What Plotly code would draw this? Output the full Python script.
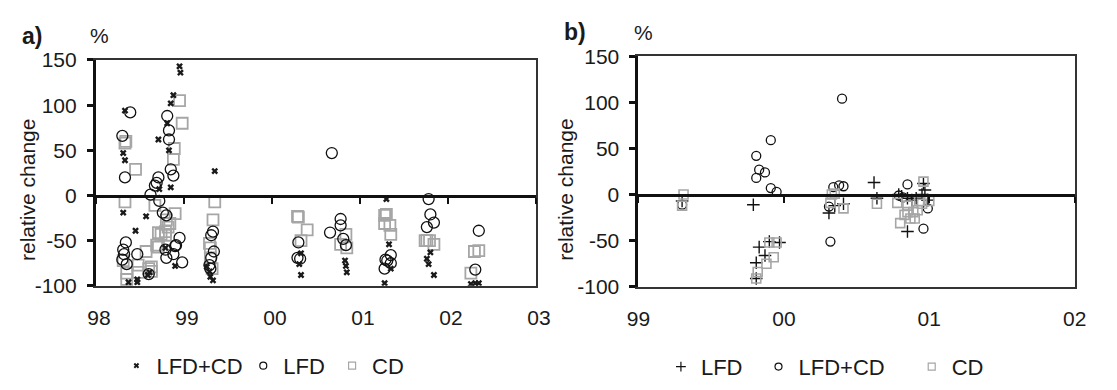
import plotly.graph_objects as go

W, H = 1117, 390

# ---------------- data: panel a ----------------
a_lfdcd_x = [1998.95, 1998.96, 1998.88, 1998.85, 1998.81, 1998.71, 1998.83, 1998.33, 1998.31, 1998.33,
             1998.72, 1998.85, 1999.35, 1998.31, 1998.57, 1998.45, 1998.79, 1998.90, 1998.37, 1998.47,
             1998.47, 1998.59, 1998.61, 1999.26, 1999.29, 1999.30, 1999.33, 2000.33, 2000.31, 2000.33,
             2000.83, 2000.84, 2000.85, 2001.30, 2001.33, 2001.35, 2001.28, 2001.80, 2001.76, 2001.78,
             2001.84, 2002.26, 2002.31, 2002.35]
a_lfdcd_y = [143, 136, 111, 102, 80, 62, 50, 94, 47, 39,
             7, 9, 27, -19, -23, -39, -58, -78, -96, -93,
             -96, -88, -85, -79, -84, -90, -94, -64, -76, -88,
             -72, -78, -85, -4, -54, -81, -97, -63, -70, -76,
             -88, -98, -97, -97]

a_lfd_x = [1998.39, 1998.81, 1998.83, 1998.83, 1998.30, 1998.33, 1998.85, 1998.88, 1998.71, 1998.67,
           1998.69, 1998.62, 1998.72, 1998.76, 1998.80, 1999.33, 1999.31, 1998.95, 1998.91, 1998.90,
           1998.88, 1998.80, 1998.98, 1998.79, 1998.47, 1998.34, 1998.31, 1998.32, 1998.30, 1998.35,
           1998.60, 1999.31, 1999.34, 1999.29, 1999.30, 2000.68, 2000.30, 2000.32, 2000.29, 2000.78,
           2000.78, 2000.66, 2000.81, 2000.84, 2001.35, 2001.29, 2001.31, 2001.28, 2001.35, 2001.78,
           2001.80, 2001.84, 2001.76, 2002.35, 2002.31]
a_lfd_y = [92, 88, 72, 62, 66, 20, 29, 22, 20, 11,
           14, 1, -6, -19, -22, -40, -44, -47, -55, -56,
           -65, -69, -74, -60, -65, -52, -60, -65, -71, -76,
           -87, -69, -62, -77, -81, 47, -52, -70, -69, -26,
           -33, -41, -48, -55, -66, -71, -72, -81, -75, -4,
           -21, -30, -35, -39, -82]

a_cd_x = [1998.95, 1998.98, 1998.89, 1998.88, 1998.34, 1998.33, 1998.45, 1998.33, 1998.67, 1998.90,
          1998.80, 1998.84, 1998.82, 1998.79, 1998.71, 1998.74, 1998.79, 1999.35, 1999.33, 1998.69,
          1998.71, 1998.57, 1998.31, 1998.35, 1998.35, 1998.48, 1998.48, 1998.60, 1998.63, 1998.63,
          1999.29, 1999.30, 1999.30, 1999.32, 2000.30, 2000.29, 2000.40, 2000.33, 2000.84, 2000.78,
          2000.85, 2001.28, 2001.30, 2001.28, 2001.34, 2001.35, 2001.76, 2001.79, 2001.84, 2001.74,
          2002.30, 2002.35, 2002.26]
a_cd_y = [105, 80, 52, 40, 60, 58, 29, -7, -11, -20,
          -27, -31, -35, -40, -41, -43, -44, -7, -27, -55,
          -57, -62, -72, -86, -93, -77, -85, -81, -79, -84,
          -53, -58, -69, -81, -24, -23, -38, -50, -43, -54,
          -58, -22, -21, -31, -33, -43, -50, -50, -54, -50,
          -62, -61, -86]

# ---------------- data: panel b ----------------
b_lfd_x = [1999.30, 1999.79, 1999.83, 1999.90, 1999.87, 1999.81, 1999.81, 1999.97, 2000.31, 2000.35,
           2000.41, 2000.62, 2000.64, 2000.96, 2000.85, 2000.79, 2000.81, 2000.85, 2000.88, 2000.91,
           2000.95, 2000.99, 2000.97]
b_lfd_y = [-7, -11, -57, -51, -66, -74, -91, -52, -20, -12,
           -10, 13, -4, 12, -40, 0, -2, -4, -6, -4,
           0, -6, 5]

b_lfdcd_x = [1999.30, 1999.81, 1999.91, 1999.83, 1999.87, 1999.81, 1999.91, 1999.95, 2000.34, 2000.38,
             2000.41, 2000.31, 2000.32, 2000.85, 2000.99, 2000.96, 2000.79, 2000.82, 2000.40]
b_lfdcd_y = [-11, 42, 59, 27, 24, 18, 7, 3, 8, 10,
             9, -13, -51, 11, -15, -37, -1, -3, 104]

b_cd_x = [1999.31, 1999.30, 1999.90, 1999.88, 1999.82, 1999.81, 1999.95, 1999.93, 2000.33, 2000.32,
          2000.35, 2000.41, 2000.64, 2000.96, 2000.80, 2000.78, 2000.83, 2000.87, 2000.90, 2000.85,
          2000.89, 2000.92, 2000.93, 2001.00, 2000.95, 2000.85]
b_cd_y = [0, -12, -52, -75, -84, -91, -52, -68, 0, -9,
          1, -15, -10, 14, -31, -9, -22, -26, -26, -19,
          -19, -17, -7, -7, -10, -12]

# ---------------- axis labels ----------------
y_vals = [-100, -50, 0, 50, 100, 150]
y_text = ["-100", "-50", "0", "50", "100", "150"]
a_years = [1998, 1999, 2000, 2001, 2002, 2003]
a_year_text = ["98", "99", "00", "01", "02", "03"]
b_years = [1999, 2000, 2001, 2002]
b_year_text = ["99", "00", "01", "02"]
Y_RANGE = [-100, 150]

FONT = "Liberation Sans, Arial, sans-serif"
TXT = "#1a1a1a"
GRAY = "#a6a6a6"


def px_x(p):
    return p / W


def px_y(p):
    return 1 - p / H


A_DX = [px_x(86), px_x(537)]
A_DY = [px_y(291), px_y(51)]
B_DX = [px_x(642), px_x(1089)]
B_DY = [px_y(292), px_y(47)]


def zero_pos(dy):
    return dy[0] + (0 - Y_RANGE[0]) / (Y_RANGE[1] - Y_RANGE[0]) * (dy[1] - dy[0])


fig = go.Figure()

# panel a traces
fig.add_trace(go.Scatter(x=a_cd_x, y=a_cd_y, mode="markers", xaxis="x", yaxis="y", showlegend=False,
                         marker=dict(symbol="square-open", size=11, color=GRAY, line=dict(width=1.8, color=GRAY))))
fig.add_trace(go.Scatter(x=a_lfd_x, y=a_lfd_y, mode="markers", xaxis="x", yaxis="y", showlegend=False,
                         marker=dict(symbol="circle-open", size=11, color="#111", line=dict(width=1.3, color="#111"))))
fig.add_trace(go.Scatter(x=a_lfdcd_x, y=a_lfdcd_y, mode="markers", xaxis="x", yaxis="y", showlegend=False,
                         marker=dict(symbol="x", size=6, color="#1a1a1a", line=dict(width=0))))

# panel b traces
fig.add_trace(go.Scatter(x=b_lfd_x, y=b_lfd_y, mode="markers", xaxis="x2", yaxis="y2", showlegend=False,
                         marker=dict(symbol="cross-thin-open", size=9, color="#111", line=dict(width=1.4, color="#111"))))
fig.add_trace(go.Scatter(x=b_lfdcd_x, y=b_lfdcd_y, mode="markers", xaxis="x2", yaxis="y2", showlegend=False,
                         marker=dict(symbol="circle-open", size=9, color="#111", line=dict(width=1.3, color="#111"))))
fig.add_trace(go.Scatter(x=b_cd_x, y=b_cd_y, mode="markers", xaxis="x2", yaxis="y2", showlegend=False,
                         marker=dict(symbol="square-open", size=9, color=GRAY, line=dict(width=1.6, color=GRAY))))

# helper empty traces so overlay axes are drawn
for xa, ya in [("x3", "y"), ("x4", "y2"), ("x", "y3"), ("x2", "y4")]:
    fig.add_trace(go.Scatter(x=[None], y=[None], xaxis=xa, yaxis=ya, showlegend=False, hoverinfo="skip"))

# legend entries: one small legend per entry, so each can be placed like the reference
legend_items = [
    ("LFD+CD", dict(symbol="x", size=5, color="#1a1a1a", line=dict(width=0)), "x", "y", 136, 376),
    ("LFD", dict(symbol="circle-open", size=7, color="#111", line=dict(width=1.2, color="#111")), "x", "y", 266, 376),
    ("CD", dict(symbol="square-open", size=7, color=GRAY, line=dict(width=1.2, color=GRAY)), "x", "y", 357, 376),
    ("LFD", dict(symbol="cross-thin-open", size=7, color="#111", line=dict(width=1.2, color="#111")), "x2", "y2", 694, 377),
    ("LFD+CD", dict(symbol="circle-open", size=7, color="#111", line=dict(width=1.2, color="#111")), "x2", "y2", 794, 377),
    ("CD", dict(symbol="square-open", size=7, color=GRAY, line=dict(width=1.2, color=GRAY)), "x2", "y2", 951, 377),
]
leg_layout = {}
for i, (name, mk, xa, ya, cx, cy) in enumerate(legend_items):
    lid = "legend" if i == 0 else f"legend{i + 1}"
    fig.add_trace(go.Scatter(x=[None], y=[None], mode="markers", name=name, marker=mk,
                             xaxis=xa, yaxis=ya, legend=lid))
    leg_layout[lid] = dict(orientation="h", yanchor="middle", xanchor="left", x=px_x(cx - 29), y=px_y(cy),
                           bgcolor="rgba(0,0,0,0)", font=dict(family=FONT, size=22, color=TXT),
                           itemsizing="trace")

tickfont = dict(family=FONT, size=21, color=TXT)


def xaxis_main(dom, years, texts, shift, anchor):
    return dict(domain=dom, range=[years[0], years[-1]], tickvals=years, ticktext=texts, anchor=anchor,
                ticks="", showgrid=False, zeroline=False, showline=True, mirror=True,
                linewidth=1.5, linecolor="#333", tickfont=tickfont, ticklabelstandoff=12,
                ticklabelshift=shift, fixedrange=True)


def yaxis_main(dom, anchor):
    return dict(domain=dom, range=Y_RANGE, tickvals=y_vals, ticktext=y_text, anchor=anchor,
                ticks="outside", ticklen=6, tickwidth=2.5, tickcolor="#111",
                showgrid=False, zeroline=False, showline=True, linewidth=3, linecolor="#111",
                tickfont=tickfont, ticklabelstandoff=6, fixedrange=True)


def xaxis_zero(over, years, dom_y):
    return dict(overlaying=over, anchor="free", position=zero_pos(dom_y), side="bottom",
                range=[years[0], years[-1]], tickvals=years, ticks="outside", ticklen=6,
                tickwidth=2, tickcolor="#111", showticklabels=False, showgrid=False,
                zeroline=False, showline=True, linewidth=3, linecolor="#111", fixedrange=True)


def yaxis_right(over, anchor):
    return dict(overlaying=over, anchor=anchor, side="right", range=Y_RANGE, ticks="",
                showticklabels=False, showgrid=False, zeroline=False, showline=True,
                linewidth=1.8, linecolor="#333", fixedrange=True)


ann_font = dict(family=FONT, size=21, color=TXT)
annotations = [
    dict(text="<b>a)</b>", x=px_x(21), y=px_y(26), xref="paper", yref="paper", showarrow=False,
         font=dict(family=FONT, size=23, color=TXT), xanchor="center", yanchor="middle"),
    dict(text="%", x=px_x(90), y=px_y(25), xref="paper", yref="paper", showarrow=False,
         font=ann_font, xanchor="center", yanchor="middle"),
    dict(text="<b>b)</b>", x=px_x(577), y=px_y(21), xref="paper", yref="paper", showarrow=False,
         font=dict(family=FONT, size=23, color=TXT), xanchor="center", yanchor="middle"),
    dict(text="%", x=px_x(647), y=px_y(22), xref="paper", yref="paper", showarrow=False,
         font=ann_font, xanchor="center", yanchor="middle"),
    dict(text="relative change", x=px_x(16), y=px_y(112), xref="paper", yref="paper", showarrow=False,
         textangle=-90, font=ann_font, xanchor="center", yanchor="top"),
    dict(text="relative change", x=px_x(567), y=px_y(111), xref="paper", yref="paper", showarrow=False,
         textangle=-90, font=ann_font, xanchor="center", yanchor="top"),
]

fig.update_layout(
    width=W, height=H, margin=dict(l=0, r=0, t=0, b=0),
    paper_bgcolor="white", plot_bgcolor="white",
    font=dict(family=FONT, color=TXT),
    xaxis=xaxis_main(A_DX, a_years, a_year_text, 3, "y"),
    yaxis=yaxis_main(A_DY, "x"),
    xaxis2=xaxis_main(B_DX, b_years, b_year_text, 0, "y2"),
    yaxis2=yaxis_main(B_DY, "x2"),
    xaxis3=xaxis_zero("x", a_years, A_DY),
    xaxis4=xaxis_zero("x2", b_years, B_DY),
    yaxis3=yaxis_right("y", "x"),
    yaxis4=yaxis_right("y2", "x2"),
    annotations=annotations,
    **leg_layout,
)

fig.write_html("out.html")
